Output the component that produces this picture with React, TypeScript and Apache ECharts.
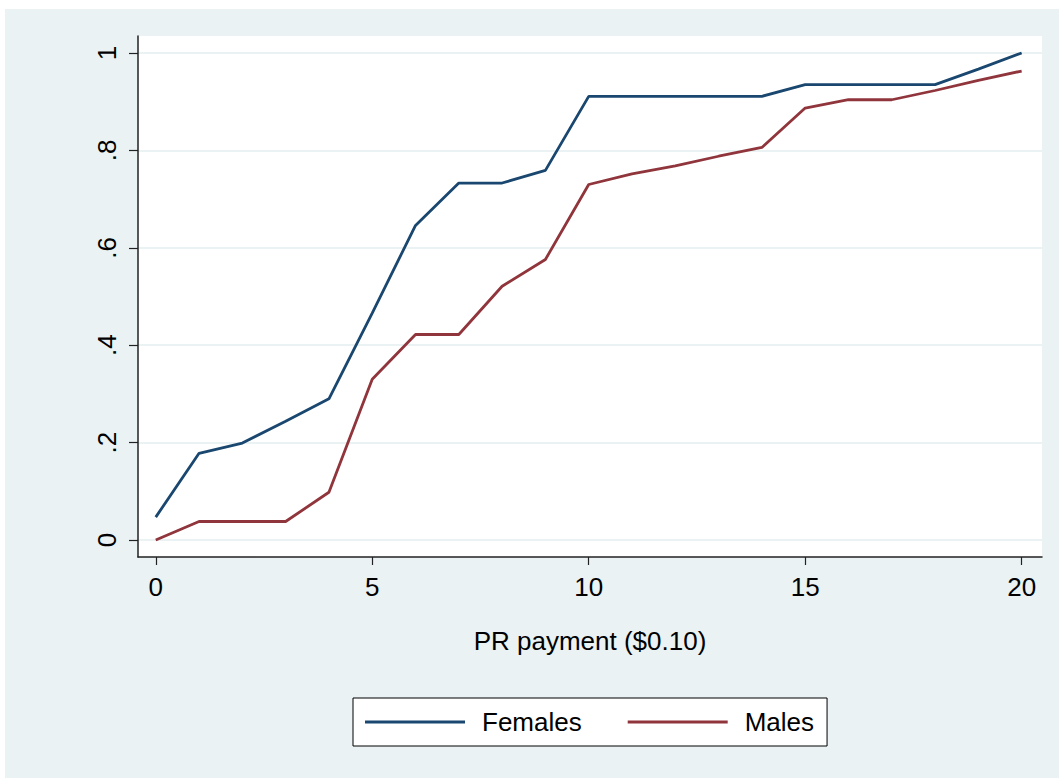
import React, { useEffect, useRef } from "react";
import * as echarts from "echarts";

const payments = [0, 1, 2, 3, 4, 5, 6, 7, 8, 9, 10, 11, 12, 13, 14, 15, 16, 17, 18, 19, 20];
const females = [0.047, 0.178, 0.199, 0.244, 0.29, 0.466, 0.646, 0.733, 0.733, 0.759, 0.911, 0.911, 0.911, 0.911, 0.911, 0.935, 0.935, 0.935, 0.935, 0.967, 1.0];
const males = [0, 0.038, 0.038, 0.038, 0.098, 0.33, 0.422, 0.422, 0.521, 0.576, 0.73, 0.752, 0.768, 0.788, 0.806, 0.887, 0.904, 0.904, 0.923, 0.944, 0.963];
const xTicks = [0, 5, 10, 15, 20];
const yTicks = [0, 0.2, 0.4, 0.6, 0.8, 1];
const yTickLabels = ["0", ".2", ".4", ".6", ".8", "1"];
const seriesNames = ["Females", "Males"];
const xTitle = "PR payment ($0.10)";

const FONT = "'Liberation Sans', Arial, Helvetica, sans-serif";

export default function App() {
  const ref = useRef<HTMLDivElement>(null);
  useEffect(() => {
    if (!ref.current) return;
    const chart = echarts.init(ref.current, undefined, { renderer: "svg" });
    chart.setOption({
      animation: false,
      backgroundColor: "#EAF2F3",
      textStyle: { fontFamily: FONT },
      grid: {
        left: 133,
        top: 27,
        right: 17,
        bottom: 221,
        show: true,
        backgroundColor: "#ffffff",
        borderWidth: 0,
      },
      xAxis: {
        type: "value",
        min: -0.41,
        max: 20.47,
        name: xTitle,
        nameLocation: "middle",
        nameGap: 71,
        nameTextStyle: { fontSize: 26, color: "#000", fontFamily: FONT },
        axisLine: { show: true, onZero: false, lineStyle: { color: "#222", width: 1.5 } },
        axisTick: { show: true, inside: false, length: 8, customValues: xTicks, lineStyle: { color: "#222", width: 1.2 } },
        axisLabel: { customValues: xTicks, fontSize: 26, color: "#000", margin: 17, fontFamily: FONT },
        splitLine: { show: false },
      },
      yAxis: {
        type: "value",
        min: -0.0349,
        max: 1.0349,
        axisLine: { show: true, onZero: false, lineStyle: { color: "#222", width: 1.5 } },
        axisTick: { show: true, inside: false, length: 9, customValues: yTicks, lineStyle: { color: "#222", width: 1.2 } },
        axisLabel: {
          customValues: yTicks,
          rotate: 90,
          fontSize: 26,
          color: "#000",
          margin: 18,
          fontFamily: FONT,
          formatter: (v: number) => {
            const i = yTicks.findIndex((t) => Math.abs(t - v) < 1e-6);
            return i >= 0 ? yTickLabels[i] : "";
          },
        },
        splitLine: { show: true, lineStyle: { color: "#EAF2F3", width: 2 } },
      },
      legend: {
        data: seriesNames,
        left: 348,
        top: 689,
        orient: "horizontal",
        icon: "rect",
        itemWidth: 100,
        itemHeight: 3,
        itemGap: 46,
        padding: [11, 13, 11, 12],
        borderColor: "#000",
        borderWidth: 1,
        backgroundColor: "#ffffff",
        textStyle: { fontSize: 26, color: "#000", fontFamily: FONT, padding: [0, 0, 0, 12] },
      },
      series: [
        {
          name: seriesNames[0],
          type: "line",
          data: payments.map((p, i) => [p, females[i]]),
          symbol: "none",
          lineStyle: { color: "#1a476f", width: 2.8 },
          itemStyle: { color: "#1a476f" },
        },
        {
          name: seriesNames[1],
          type: "line",
          data: payments.map((p, i) => [p, males[i]]),
          symbol: "none",
          lineStyle: { color: "#90353b", width: 2.8 },
          itemStyle: { color: "#90353b" },
        },
      ],
    });
    return () => chart.dispose();
  }, []);
  return (
    <div style={{ position: "absolute", left: 0, top: 0, width: 1059, height: 778, background: "#fff" }}>
      <div ref={ref} style={{ position: "absolute", left: 5, top: 9, width: 1054, height: 769 }} />
    </div>
  );
}
